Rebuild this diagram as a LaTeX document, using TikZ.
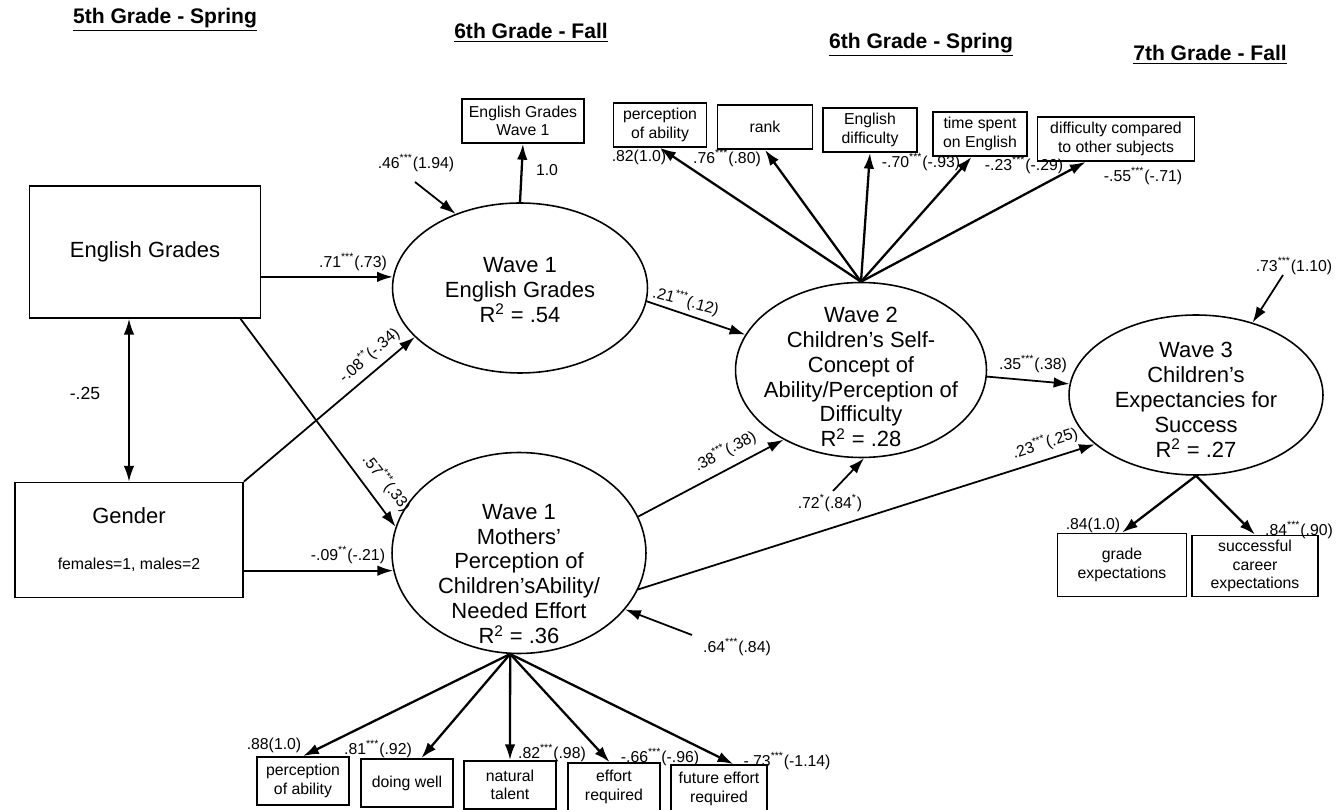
\documentclass[tikz,border=0pt]{standalone}
\usepackage{fontspec}
\setmainfont{Liberation Sans}
\usetikzlibrary{shapes.geometric,arrows.meta}
\newcommand{\sig}[1]{\textsuperscript{#1}}

\begin{document}
\begin{tikzpicture}[x=0.02cm,y=-0.02cm,
        >={Latex[length=9pt,width=6pt]},
        latent/.style={ellipse,draw,line width=0.9pt},
        bigtext/.style={align=center,font=\fontsize{12.5}{14.2}\selectfont},
        obsbox/.style={rectangle,draw,line width=1pt,align=center,inner sep=1pt,minimum height=0.88cm,font=\fontsize{9}{10.5}\selectfont},
        grade/.style={font=\bfseries\fontsize{12}{14}\selectfont},
        coef/.style={font=\fontsize{9}{10}\selectfont,inner sep=1pt},
        path/.style={->,line width=1pt},
        load/.style={->,line width=1.3pt}]
        \useasboundingbox (0,0) rectangle (1342,810);

        % time points
        \node[grade] (h1) at (165,20) {\underline{5th Grade - Spring}};
        \node[grade] (h2) at (531,33) {\underline{6th Grade - Fall}};
        \node[grade] (h3) at (921,45) {\underline{6th Grade - Spring}};
        \node[grade] (h4) at (1210,55) {\underline{7th Grade - Fall}};

        % exogenous
        \node[rectangle,draw,line width=1pt,bigtext,minimum width=4.62cm,minimum height=2.64cm] (eg) at (145,252) {English Grades};
        \node[rectangle,draw,line width=1pt,bigtext,minimum width=4.56cm,minimum height=2.3cm] (gender) at (129,540) {Gender\\[12pt]{\fontsize{9}{10}\selectfont females=1, males=2}};

        % latent variables
        \node[latent,minimum width=5.1cm,minimum height=3.4cm] (e1) at (520,288) {};
        \node[bigtext] (e1txt) at (520,290) {Wave 1\\English Grades\\R\sig{2} = .54};
        \node[latent,minimum width=5.08cm,minimum height=4.02cm] (m1) at (519,553) {};
        \node[bigtext] (m1txt) at (519,574) {Wave 1\\Mothers'\\Perception of\\Children'sAbility/\\Needed Effort\\R\sig{2} = .36};
        \node[latent,minimum width=5.02cm,minimum height=3.5cm] (c2) at (861,370) {};
        \node[bigtext] (c2txt) at (861,377) {Wave 2\\Children's Self-\\Concept of\\Ability/Perception of\\Difficulty\\R\sig{2} = .28};
        \node[latent,minimum width=5.08cm,minimum height=3.2cm] (c3) at (1196,395) {};
        \node[bigtext] (c3txt) at (1196,400) {Wave 3\\Children's\\Expectancies for\\Success\\R\sig{2} = .27};

        % indicators
        \node[obsbox,minimum width=2.44cm] (egw) at (523,121) {English Grades\\Wave 1};
        \node[obsbox,minimum width=1.86cm] (tpa) at (660,125) {perception\\of ability};
        \node[obsbox,minimum width=1.9cm] (rank) at (765,127) {rank};
        \node[obsbox,minimum width=1.88cm] (edif) at (870,130) {English\\difficulty};
        \node[obsbox,minimum width=1.88cm] (time) at (980,134) {time spent\\on English};
        \node[obsbox,minimum width=3.14cm] (dcomp) at (1116,139) {difficulty compared\\to other subjects};

        \node[obsbox,minimum width=1.84cm,minimum height=0.96cm] (bpa) at (303,781) {perception\\of ability};
        \node[obsbox,minimum width=1.84cm,minimum height=0.96cm] (dw) at (407,783) {doing well};
        \node[obsbox,minimum width=1.84cm,minimum height=0.96cm] (nt) at (510,785) {natural\\talent};
        \node[obsbox,minimum width=1.84cm,minimum height=0.96cm] (er) at (614,787) {effort\\required};
        \node[obsbox,minimum width=1.92cm,minimum height=0.96cm] (fe) at (719,789) {future effort\\required};

        \node[obsbox,minimum width=2.58cm,minimum height=1.26cm] (ge) at (1122,565) {grade\\expectations};
        \node[obsbox,minimum width=2.52cm,minimum height=1.22cm] (sce) at (1255,566) {successful\\career\\expectations};

        % residuals
        \coordinate (e1err) at (415,182);
        \coordinate (c2err) at (833,491);
        \coordinate (m1err) at (692,635);
        \coordinate (c3err) at (1283,275);

        % structural paths
        \draw[<->,line width=1pt] (gender.north |- eg.south) -- (gender.north);
        \draw[path] (eg.east |- e1.175) -- (e1.175);
        \draw[path] (eg.-35) -- (m1.168);
        \draw[path] (gender.north east) -- (e1.205);
        \draw[path] (gender.east |- m1.188) -- (m1.188);
        \draw[path] (e1.-6) -- (c2.163);
        \draw[path] (m1.17) -- (c2.222);
        \draw[path] (m1.-17) -- (c3.206);
        \draw[path] (c2.-3) -- (c3.175);

        \draw[path] (e1err) -- (e1.131);
        \draw[path] (c2err) -- (c2.272);
        \draw[path] (m1err) -- (m1.-28);
        \draw[path] (c3err) -- (c3.52);

        % measurement paths
        \draw[load] (e1.north) -- (egw.south);
        \foreach \t in {tpa.south,rank.south,edif.south,time.250,dcomp.217}
            \draw[load] (c2.north) -- (\t);
        \foreach \t in {bpa.north,dw.60,nt.north,er.100,fe.60}
            \draw[load] (m1.265) -- (\t);
        \draw[load] (c3.south) -- (ge.north);
        \draw[load] (c3.south) -- (sce.north);

        % coefficients
        \node[coef,font=\fontsize{10}{11}\selectfont] (r-eg) at (85,393) {-.25};
        \node[coef] (k-ege1) at (353,262) {.71\sig{***}(.73)};
        \node[coef,rotate=-52] (k-egm1) at (387,483) {.57\sig{***}(.33)};
        \node[coef,rotate=41] (k-ge1) at (369,355) {-.08\sig{**}(-.34)};
        \node[coef] (k-gm1) at (348,555) {-.09\sig{**}(-.21)};
        \node[coef,rotate=-15] (k-e1c2) at (686,301) {.21\sig{***}(.12)};
        \node[coef,rotate=28] (k-m1c2) at (725,451) {.38\sig{***}(.38)};
        \node[coef,rotate=18] (k-m1c3) at (1045,443) {.23\sig{***}(.25)};
        \node[coef] (k-c2c3) at (1033,364) {.35\sig{***}(.38)};

        \node[coef] (u-e1) at (416,163) {.46\sig{***}(1.94)};
        \node[coef] (u-c2) at (830,503) {.72\sig{*}(.84\sig{*})};
        \node[coef] (u-m1) at (737,647) {.64\sig{***}(.84)};
        \node[coef] (u-c3) at (1294,266) {.73\sig{***}(1.10)};

        \node[coef] (f-egw) at (547,170) {1.0};
        \node[coef] (f-tpa) at (639,157) {.82(1.0)};
        \node[coef] (f-rank) at (727,158) {.76\sig{***}(.80)};
        \node[coef] (f-edif) at (921,162) {-.70\sig{***}(-.93)};
        \node[coef] (f-time) at (1024,165) {-.23\sig{***}(-.29)};
        \node[coef] (f-dcomp) at (1143,176) {-.55\sig{***}(-.71)};

        \node[coef] (f-bpa) at (274,745) {.88(1.0)};
        \node[coef] (f-dw) at (378,749) {.81\sig{***}(.92)};
        \node[coef] (f-nt) at (552,753) {.82\sig{***}(.98)};
        \node[coef] (f-er) at (660,757) {-.66\sig{***}(-.96)};
        \node[coef] (f-fe) at (787,761) {-.73\sig{***}(-1.14)};

        \node[coef] (f-ge) at (1093,525) {.84(1.0)};
        \node[coef] (f-sce) at (1299,530) {.84\sig{***}(.90)};
    \end{tikzpicture}
\end{document}
